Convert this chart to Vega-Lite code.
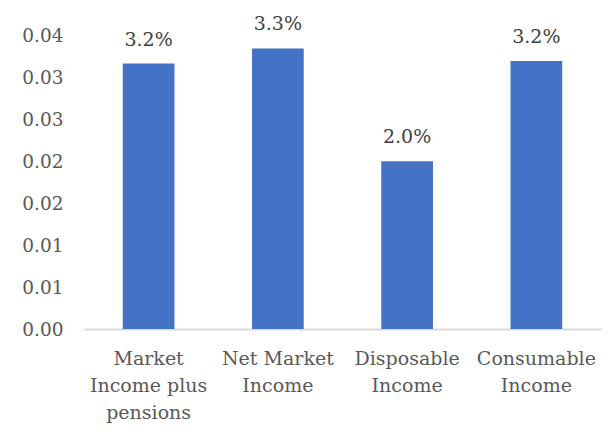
{
  "$schema": "https://vega.github.io/schema/vega-lite/v6.json",
  "width": 517,
  "height": 294,
  "autosize": {"type": "none"},
  "padding": {"left": 84, "top": 35, "right": 12, "bottom": 104},
  "background": "white",
  "config": {
    "view": {"stroke": null},
    "font": "DejaVu Serif"
  },
  "data": {
    "values": [
      {"category": "Market Income plus pensions", "value": 0.0316, "label": "3.2%"},
      {"category": "Net Market Income", "value": 0.0334, "label": "3.3%"},
      {"category": "Disposable Income", "value": 0.01996, "label": "2.0%"},
      {"category": "Consumable Income", "value": 0.0319, "label": "3.2%"}
    ]
  },
  "encoding": {
    "x": {
      "field": "category",
      "type": "nominal",
      "sort": null,
      "scale": {"paddingInner": 0.6, "paddingOuter": 0.3},
      "axis": {
        "title": null,
        "labelAngle": 0,
        "labelFont": "DejaVu Serif",
        "labelFontSize": 19,
        "labelColor": "#595959",
        "labelLineHeight": 27,
        "labelPadding": 20,
        "labelBaseline": "top",
        "ticks": false,
        "domainColor": "#d9d9d9",
        "domainWidth": 2,
        "grid": false,
        "labelExpr": "datum.label == 'Market Income plus pensions' ? ['Market', 'Income plus', 'pensions'] : datum.label == 'Net Market Income' ? ['Net Market', 'Income'] : datum.label == 'Disposable Income' ? ['Disposable', 'Income'] : ['Consumable', 'Income']"
      }
    },
    "y": {
      "field": "value",
      "type": "quantitative",
      "scale": {"domain": [0, 0.035], "nice": false},
      "axis": {
        "title": null,
        "values": [0, 0.005, 0.01, 0.015, 0.02, 0.025, 0.03, 0.035],
        "labelExpr": "format(datum.value + 1e-9, '.2f')",
        "labelFont": "DejaVu Serif",
        "labelFontSize": 18.5,
        "labelColor": "#595959",
        "labelPadding": 21,
        "ticks": false,
        "domain": false,
        "grid": false
      }
    }
  },
  "layer": [
    {"mark": {"type": "bar", "color": "#4472c4"}},
    {
      "mark": {"type": "text", "font": "DejaVu Serif", "fontSize": 19, "color": "#404040", "baseline": "alphabetic", "dy": -18, "clip": false},
      "encoding": {"text": {"field": "label"}}
    }
  ]
}
